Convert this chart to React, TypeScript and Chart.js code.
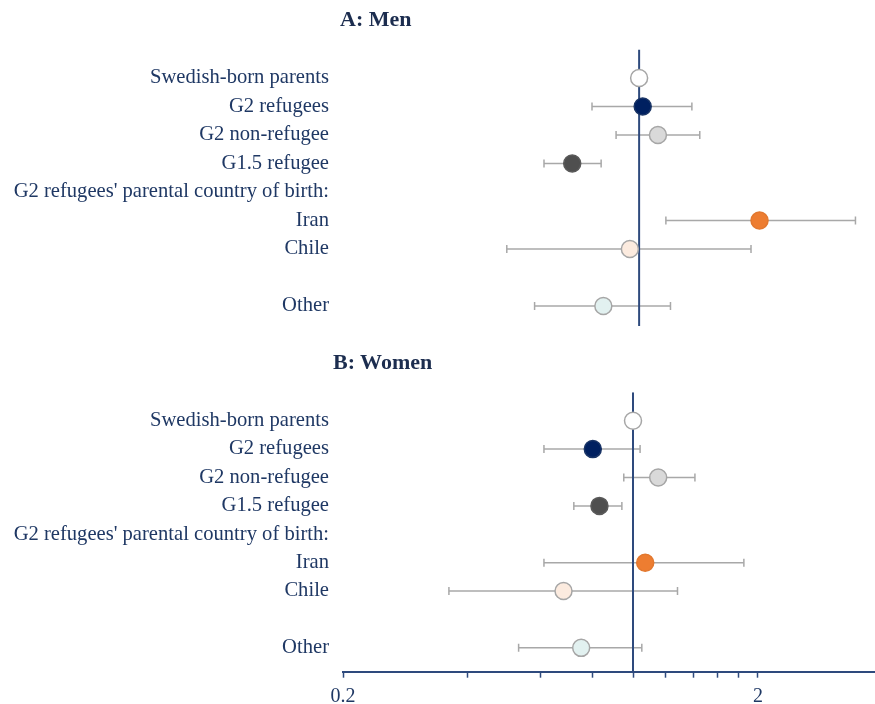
import React, { useEffect, useRef } from 'react';
import { Chart, registerables } from 'chart.js';

Chart.register(...registerables);

const rowLabels = [
  'Swedish-born parents',
  'G2 refugees',
  'G2 non-refugee',
  'G1.5 refugee',
  "G2 refugees' parental country of birth:",
  'Iran',
  'Chile',
  '',
  'Other',
];
const groupRows = [0, 1, 2, 3, 5, 6, 8];

const menEstimate = [1.0, 1.02, 1.11, 0.69, 1.95, 0.95, 0.82];
const menLower = [null, 0.77, 0.88, 0.59, 1.16, 0.48, 0.56];
const menUpper = [null, 1.34, 1.40, 0.81, 3.32, 1.86, 1.19];

const womenEstimate = [1.0, 0.8, 1.15, 0.83, 1.07, 0.68, 0.75];
const womenLower = [null, 0.61, 0.95, 0.72, 0.61, 0.36, 0.53];
const womenUpper = [null, 1.04, 1.41, 0.94, 1.85, 1.28, 1.05];

const markerFill = ['#ffffff', '#002060', '#d9d9d9', '#4f4f4f', '#ed7d31', '#fcebdf', '#e2f1f0'];
const markerBorder = ['#a6a6a6', '#1a3566', '#a6a6a6', '#5a5a5a', '#e2782f', '#a6a6a6', '#a6a6a6'];

const xTickValues = [0.2, 0.4, 0.6, 0.8, 1, 1.2, 1.4, 1.6, 1.8, 2];
const xTickLabels = ['0.2', '', '', '', '', '', '', '', '', '2'];
const referenceValue = 1;

const NAVY = '#1f3864';
const LINE_NAVY = '#2e4a7d';
const CI_GRAY = '#a8a8a8';
const SERIF = "'Liberation Serif', 'Times New Roman', serif";

type PanelOpts = {
  estimate: number[];
  lower: (number | null)[];
  upper: (number | null)[];
  xMin: number;
  xMax: number;
  yMax: number;
  padTop: number;
  padBottom: number;
  showAxis: boolean;
  axisHeight: number;
};

function makeConfig(p: PanelOpts): any {
  const datasets: any[] = [];
  datasets.push({
    data: [
      { x: referenceValue, y: -1 },
      { x: referenceValue, y: p.yMax },
    ],
    showLine: true,
    borderColor: LINE_NAVY,
    borderWidth: 2,
    pointRadius: 0,
    order: 2,
  });
  groupRows.forEach((row, i) => {
    const lo = p.lower[i];
    const hi = p.upper[i];
    if (lo == null || hi == null) return;
    datasets.push({
      data: [
        { x: lo, y: row },
        { x: hi, y: row },
      ],
      showLine: true,
      borderColor: CI_GRAY,
      borderWidth: 1.5,
      pointStyle: 'line',
      rotation: 90,
      pointRadius: 4,
      pointBorderColor: CI_GRAY,
      pointBorderWidth: 1.5,
      order: 3,
    });
  });
  datasets.push({
    data: groupRows.map((row, i) => ({ x: p.estimate[i], y: row })),
    pointRadius: 8.5,
    pointBackgroundColor: markerFill,
    pointBorderColor: markerBorder,
    pointBorderWidth: 1.5,
    showLine: false,
    order: 1,
  });

  return {
    type: 'scatter',
    data: { datasets },
    options: {
      animation: false,
      responsive: false,
      maintainAspectRatio: false,
      events: [],
      layout: { autoPadding: false, padding: { top: p.padTop, bottom: p.padBottom, left: 0, right: 0 } },
      plugins: { legend: { display: false }, tooltip: { enabled: false }, title: { display: false } },
      scales: {
        x: {
          type: 'logarithmic',
          min: p.xMin,
          max: p.xMax,
          bounds: 'data',
          display: p.showAxis,
          afterBuildTicks: (scale: any) => {
            scale.ticks = xTickValues.map((v) => ({ value: v }));
          },
          afterFit: (scale: any) => {
            scale.height = p.axisHeight;
            scale.paddingLeft = 0;
            scale.paddingRight = 0;
          },
          border: { display: true, color: LINE_NAVY, width: 2 },
          grid: {
            display: true,
            drawOnChartArea: false,
            drawTicks: true,
            tickLength: 6,
            tickColor: LINE_NAVY,
            tickWidth: 1.5,
          },
          ticks: {
            autoSkip: false,
            maxRotation: 0,
            padding: 7,
            color: NAVY,
            font: { family: SERIF, size: 20 },
            callback: (value: any) => {
              const idx = xTickValues.findIndex((v) => Math.abs(v - Number(value)) < 1e-9);
              return idx >= 0 ? xTickLabels[idx] : '';
            },
          },
        },
        y: {
          type: 'linear',
          reverse: true,
          min: -1,
          max: p.yMax,
          afterBuildTicks: (scale: any) => {
            scale.ticks = rowLabels.map((_, i) => ({ value: i }));
          },
          afterFit: (scale: any) => {
            scale.width = 343;
            scale.paddingTop = 0;
            scale.paddingBottom = 0;
          },
          border: { display: false },
          grid: { display: false, drawTicks: false },
          ticks: {
            autoSkip: false,
            padding: 14,
            color: NAVY,
            font: { family: SERIF, size: 20.6 },
            callback: (value: any) => rowLabels[Math.round(Number(value))] ?? '',
          },
        },
      },
    },
  };
}

function Panel(props: { opts: PanelOpts; height: number }) {
  const ref = useRef<HTMLCanvasElement | null>(null);
  useEffect(() => {
    if (!ref.current) return;
    const chart = new Chart(ref.current, makeConfig(props.opts));
    return () => chart.destroy();
  }, []);
  return (
    <canvas
      ref={ref}
      width={875}
      height={props.height}
      style={{ display: 'block', width: 875, height: props.height }}
    />
  );
}

const titleStyle: React.CSSProperties = {
  position: 'absolute',
  fontFamily: SERIF,
  fontWeight: 'bold',
  fontSize: 22,
  lineHeight: '24px',
  color: '#1c2d4f',
  whiteSpace: 'nowrap',
};

export default function App() {
  useEffect(() => {
    document.body.style.margin = '0';
  }, []);
  const men: PanelOpts = {
    estimate: menEstimate,
    lower: menLower,
    upper: menUpper,
    xMin: 0.1935,
    xMax: 3.7,
    yMax: 8.7,
    padTop: 49.5,
    padBottom: 14,
    showAxis: false,
    axisHeight: 0,
  };
  const women: PanelOpts = {
    estimate: womenEstimate,
    lower: womenLower,
    upper: womenUpper,
    xMin: 0.2,
    xMax: 3.83,
    yMax: 8.84,
    padTop: 52.3,
    padBottom: 0,
    showAxis: true,
    axisHeight: 32.3,
  };
  return (
    <div style={{ position: 'relative', width: 875, height: 704, background: '#fff' }}>
      <Panel opts={men} height={340} />
      <Panel opts={women} height={364} />
      <div style={{ ...titleStyle, left: 340, top: 7 }}>A: Men</div>
      <div style={{ ...titleStyle, left: 333, top: 350 }}>B: Women</div>
    </div>
  );
}
